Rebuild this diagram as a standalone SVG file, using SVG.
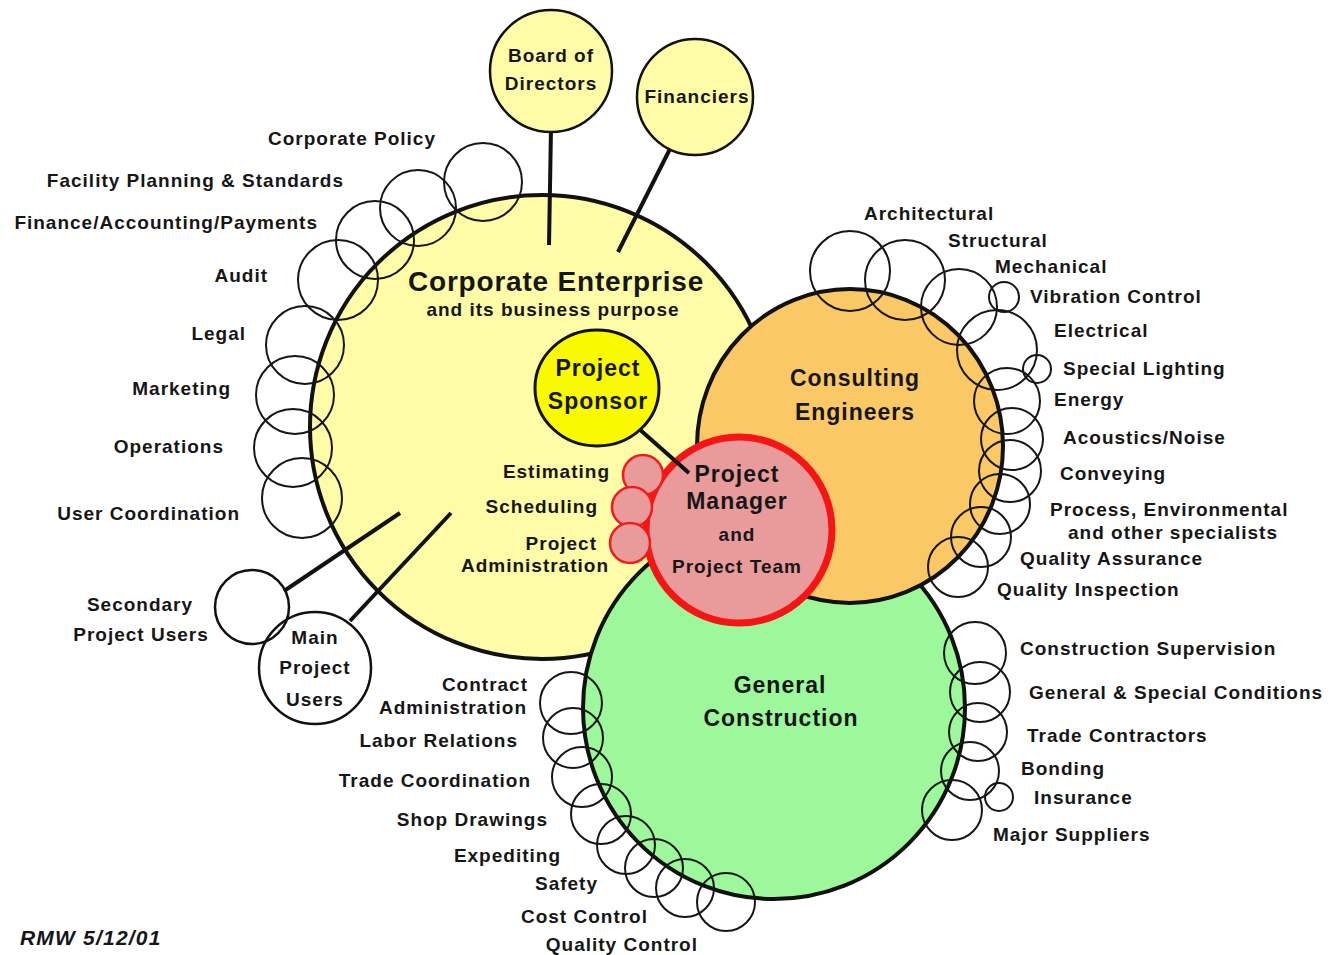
<svg xmlns="http://www.w3.org/2000/svg" width="1338" height="955" viewBox="0 0 1338 955">
<style>
text{font-family:"Liberation Sans",Arial,sans-serif;font-weight:bold;fill:#161616;font-size:19px;letter-spacing:1px}
.big{font-size:23px}
.title{font-size:28px;letter-spacing:0.8px}
.sig{font-size:21px;letter-spacing:1.2px;font-style:italic}
.m{text-anchor:middle}
.e{text-anchor:end}
.main{stroke:#111;stroke-width:4}
.ring{fill:none;stroke:#161616;stroke-width:2}
.sub{fill:#E99B9B;stroke:#F21A1A;stroke-width:2.5}
.conn{stroke:#111;stroke-width:4;stroke-linecap:butt}
</style>
<rect width="1338" height="955" fill="#fff"/>
<g id="corporate-enterprise">
<circle class="main" cx="542" cy="427" r="232" fill="#FFFCA8"/>
</g>
<g id="general-construction">
<circle class="main" cx="774" cy="708" r="191" fill="#9CF89A"/>
</g>
<g id="consulting-engineers">
<ellipse class="main" cx="850" cy="446" rx="153" ry="157" fill="#FBC866"/>
</g>
<g id="project-manager">
<circle cx="739" cy="530" r="93" fill="#E99B9B" stroke="#F51515" stroke-width="7"/>
<text class="big m" x="737" y="482">Project</text>
<text class="big m" x="737" y="509">Manager</text>
<text class="m" x="737" y="541">and</text>
<text class="m" x="737" y="573">Project Team</text>
</g>
<g id="connectors">
<line class="conn" x1="551" y1="128" x2="549" y2="245"/>
<line class="conn" x1="673" y1="143" x2="618" y2="252"/>
<line class="conn" x1="400" y1="513" x2="284" y2="591"/>
<line class="conn" x1="451" y1="513" x2="350" y2="621"/>
<line class="conn" x1="638" y1="428" x2="689" y2="473"/>
</g>
<g id="estimating"><circle class="sub" cx="643" cy="475" r="20"/><text class="e" x="610" y="478">Estimating</text></g>
<g id="scheduling"><circle class="sub" cx="632" cy="507" r="20"/><text class="e" x="598" y="513">Scheduling</text></g>
<g id="project-administration"><circle class="sub" cx="630" cy="543" r="20"/><text class="e" x="597" y="550">Project</text><text class="e" x="609" y="572">Administration</text></g>
<g id="project-sponsor">
<ellipse cx="597" cy="388" rx="62" ry="58" fill="#F9F900" stroke="#111" stroke-width="3"/>
<text class="big m" x="598" y="376">Project</text>
<text class="big m" x="598" y="409">Sponsor</text>
</g>
<g id="board-of-directors">
<circle cx="551" cy="71" r="61" fill="#FFFCA8" stroke="#111" stroke-width="2.5"/>
<text class="m" x="551" y="62">Board of</text>
<text class="m" x="551" y="90">Directors</text>
</g>
<g id="financiers">
<circle cx="695" cy="97" r="58" fill="#FFFCA8" stroke="#111" stroke-width="2.5"/>
<text class="m" x="697" y="103">Financiers</text>
</g>
<g id="secondary-project-users">
<circle cx="252" cy="607" r="37" fill="none" stroke="#111" stroke-width="2.5"/>
<text class="m" x="140" y="611">Secondary</text>
<text class="m" x="141" y="641">Project Users</text>
</g>
<g id="main-project-users">
<circle cx="315" cy="668" r="56" fill="none" stroke="#111" stroke-width="2.5"/>
<text class="m" x="315" y="644">Main</text>
<text class="m" x="315" y="674">Project</text>
<text class="m" x="315" y="706">Users</text>
</g>
<g id="corporate-labels">
<text class="title m" x="556" y="291">Corporate Enterprise</text>
<text class="m" x="553" y="316">and its business purpose</text>
</g>
<g id="consulting-labels">
<text class="big m" x="855" y="386">Consulting</text>
<text class="big m" x="855" y="420">Engineers</text>
</g>
<g id="construction-labels">
<text class="big m" x="780" y="693">General</text>
<text class="big m" x="781" y="726">Construction</text>
</g>
<g id="corporate-functions">
<g id="corporate-policy"><circle class="ring" cx="483" cy="182" r="39"/><text class="e" x="436" y="145">Corporate Policy</text></g>
<g id="facility-planning"><circle class="ring" cx="418" cy="208" r="38"/><text class="e" x="344" y="187">Facility Planning &amp; Standards</text></g>
<g id="finance"><circle class="ring" cx="375" cy="240" r="39"/><text class="e" x="318" y="229">Finance/Accounting/Payments</text></g>
<g id="audit"><circle class="ring" cx="338" cy="280" r="40"/><text class="e" x="268" y="282">Audit</text></g>
<g id="legal"><circle class="ring" cx="305" cy="345" r="39"/><text class="e" x="246" y="340">Legal</text></g>
<g id="marketing"><circle class="ring" cx="295" cy="395" r="39"/><text class="e" x="231" y="395">Marketing</text></g>
<g id="operations"><circle class="ring" cx="293" cy="448" r="39"/><text class="e" x="224" y="453">Operations</text></g>
<g id="user-coordination"><circle class="ring" cx="302" cy="498" r="40"/><text class="e" x="240" y="520">User Coordination</text></g>
</g>
<g id="engineering-disciplines">
<g id="architectural"><circle class="ring" cx="850" cy="271" r="40"/><text x="864" y="220">Architectural</text></g>
<g id="structural"><circle class="ring" cx="905" cy="280" r="40"/><text x="948" y="247">Structural</text></g>
<g id="mechanical"><circle class="ring" cx="959" cy="307" r="38"/><text x="995" y="273">Mechanical</text></g>
<g id="vibration-control"><circle class="ring" cx="1004" cy="297" r="15"/><text x="1030" y="303">Vibration Control</text></g>
<g id="electrical"><circle class="ring" cx="997" cy="350" r="40"/><text x="1054" y="337">Electrical</text></g>
<g id="special-lighting"><circle class="ring" cx="1037" cy="369" r="14"/><text x="1063" y="375">Special Lighting</text></g>
<g id="energy"><circle class="ring" cx="1007" cy="401" r="33"/><text x="1054" y="406">Energy</text></g>
<g id="acoustics"><circle class="ring" cx="1012" cy="439" r="31"/><text x="1063" y="444">Acoustics/Noise</text></g>
<g id="conveying"><circle class="ring" cx="1010" cy="471" r="31"/><text x="1060" y="480">Conveying</text></g>
<g id="process"><circle class="ring" cx="1000" cy="504" r="30"/><text x="1050" y="516">Process, Environmental</text><text x="1068" y="539">and other specialists</text></g>
<g id="quality-assurance"><circle class="ring" cx="981" cy="537" r="30"/><text x="1020" y="565">Quality Assurance</text></g>
<g id="quality-inspection"><circle class="ring" cx="958" cy="567" r="30"/><text x="997" y="596">Quality Inspection</text></g>
</g>
<g id="construction-functions">
<g id="contract-administration"><circle class="ring" cx="571" cy="703" r="31"/><text class="e" x="528" y="691">Contract</text><text class="e" x="527" y="714">Administration</text></g>
<g id="labor-relations"><circle class="ring" cx="573" cy="738" r="30"/><text class="e" x="518" y="747">Labor Relations</text></g>
<g id="trade-coordination"><circle class="ring" cx="582" cy="777" r="30"/><text class="e" x="531" y="787">Trade Coordination</text></g>
<g id="shop-drawings"><circle class="ring" cx="601" cy="814" r="30"/><text class="e" x="548" y="826">Shop Drawings</text></g>
<g id="expediting"><circle class="ring" cx="626" cy="845" r="29"/><text class="e" x="561" y="862">Expediting</text></g>
<g id="safety"><circle class="ring" cx="654" cy="868" r="29"/><text class="e" x="598" y="890">Safety</text></g>
<g id="cost-control"><circle class="ring" cx="685" cy="888" r="29"/><text class="e" x="648" y="923">Cost Control</text></g>
<g id="quality-control"><circle class="ring" cx="726" cy="902" r="29"/><text class="e" x="698" y="951">Quality Control</text></g>
<g id="construction-supervision"><circle class="ring" cx="975" cy="653" r="31"/><text x="1020" y="655">Construction Supervision</text></g>
<g id="general-special-conditions"><circle class="ring" cx="980" cy="692" r="30"/><text x="1029" y="699">General &amp; Special Conditions</text></g>
<g id="trade-contractors"><circle class="ring" cx="978" cy="732" r="29"/><text x="1027" y="742">Trade Contractors</text></g>
<g id="bonding"><circle class="ring" cx="970" cy="771" r="29"/><text x="1021" y="775">Bonding</text></g>
<g id="insurance"><circle class="ring" cx="999" cy="797" r="14"/><text x="1034" y="804">Insurance</text></g>
<g id="major-suppliers"><circle class="ring" cx="952" cy="810" r="30"/><text x="993" y="841">Major Suppliers</text></g>
</g>
<g id="signature">
<text class="sig" x="20" y="945">RMW 5/12/01</text>
</g>
</svg>
